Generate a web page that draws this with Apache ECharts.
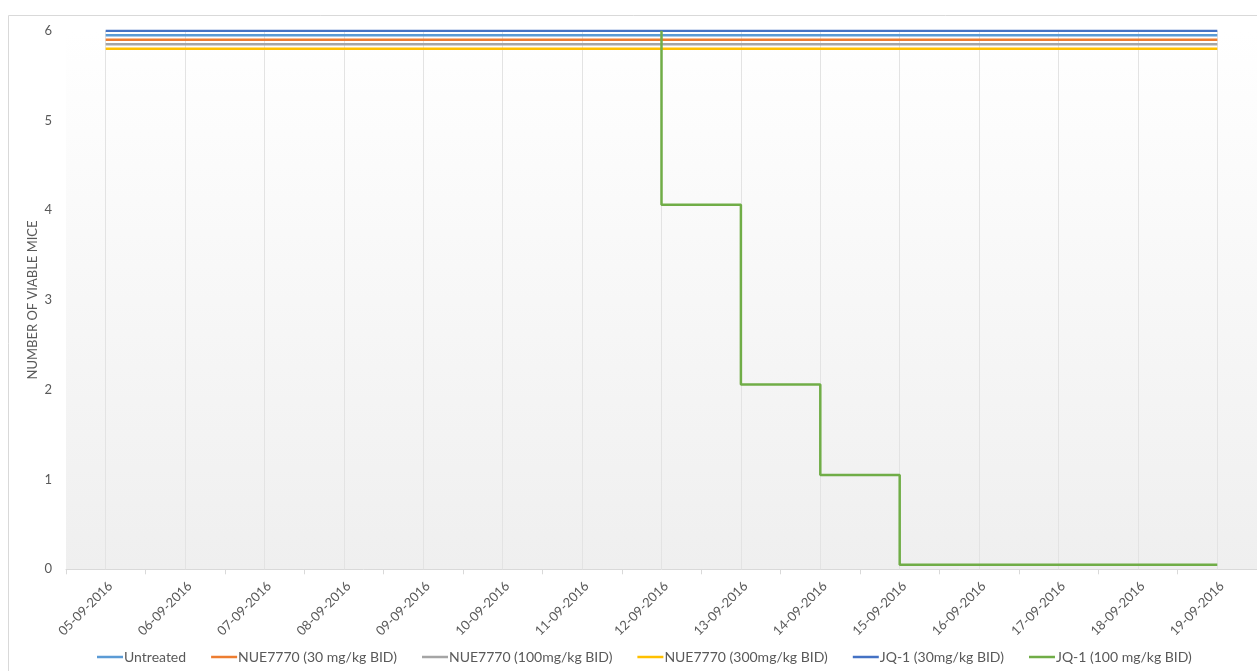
<!DOCTYPE html>
<html>
<head>
<meta charset="utf-8">
<script src="https://cdn.jsdelivr.net/npm/echarts@6/dist/echarts.min.js"></script>
<style>
html,body{margin:0;padding:0;background:#fff;}
#chart{width:1257px;height:671px;}
</style>
</head>
<body>
<div id="chart"></div>
<script>
var dates = ['05-09-2016','06-09-2016','07-09-2016','08-09-2016','09-09-2016','10-09-2016','11-09-2016','12-09-2016','13-09-2016','14-09-2016','15-09-2016','16-09-2016','17-09-2016','18-09-2016','19-09-2016'];
var seriesNames = ['Untreated','NUE7770 (30 mg/kg BID)','NUE7770 (100mg/kg BID)','NUE7770 (300mg/kg BID)','JQ-1 (30mg/kg BID)','JQ-1 (100 mg/kg BID)'];
var seriesColors = ['#5B9BD5','#ED7D31','#A5A5A5','#FFC000','#4472C4','#70AD47'];
var untreated = [5.95,5.95,5.95,5.95,5.95,5.95,5.95,5.95,5.95,5.95,5.95,5.95,5.95,5.95,5.95];
var nue30 = [5.9,5.9,5.9,5.9,5.9,5.9,5.9,5.9,5.9,5.9,5.9,5.9,5.9,5.9,5.9];
var nue100 = [5.85,5.85,5.85,5.85,5.85,5.85,5.85,5.85,5.85,5.85,5.85,5.85,5.85,5.85,5.85];
var nue300 = [5.8,5.8,5.8,5.8,5.8,5.8,5.8,5.8,5.8,5.8,5.8,5.8,5.8,5.8,5.8];
var jq30 = [6,6,6,6,6,6,6,6,6,6,6,6,6,6,6];
var jq100Dates = ['12-09-2016','13-09-2016','14-09-2016','15-09-2016','16-09-2016','17-09-2016','18-09-2016','19-09-2016'];
var jq100 = [6,4.06,2.06,1.05,0.05,0.05,0.05,0.05];
var yTicks = [0,1,2,3,4,5,6];

var FONT = 'Lato';
var TXT = '#595959';

function mk(i, data){
  return {
    name: seriesNames[i],
    type: 'line',
    data: data,
    symbol: 'none',
    showSymbol: false,
    lineStyle: {color: seriesColors[i], width: 2.5},
    itemStyle: {color: seriesColors[i]},
    emphasis: {disabled: true},
    animation: false,
    z: 3
  };
}

var s0 = mk(0, untreated);
s0.markLine = {
  silent: true,
  z: 1,
  symbol: ['none','none'],
  label: {show: false},
  lineStyle: {color: '#e3e3e3', width: 1, type: 'solid'},
  animation: false,
  data: dates.map(function(c){ return {xAxis: c}; })
};
var s5 = mk(5, jq100Dates.map(function(d, k){ return [d, jq100[k]]; }));
s5.step = 'start';

var series = [s0, mk(1, nue30), mk(2, nue100), mk(3, nue300), mk(4, jq30), s5];

var chart = echarts.init(document.getElementById('chart'));
chart.setOption({
  animation: false,
  textStyle: {fontFamily: FONT},
  graphic: [{
    type: 'rect',
    shape: {x: 8.5, y: 15.5, width: 1300, height: 700},
    style: {fill: 'none', stroke: '#d9d9d9', lineWidth: 1},
    z: -10, silent: true
  }],
  grid: {
    left: 66, right: 0, top: 30.7, bottom: 101.7,
    show: true,
    borderWidth: 0,
    backgroundColor: new echarts.graphic.LinearGradient(0,0,0,1,[
      {offset: 0, color: '#ffffff'},
      {offset: 1, color: '#efefef'}
    ])
  },
  legend: {
    data: seriesNames,
    left: 92,
    top: 645,
    icon: 'rect',
    itemWidth: 26,
    itemHeight: 2.5,
    itemGap: 25,
    textStyle: {color: TXT, fontSize: 14, fontFamily: FONT, padding: [0,0,0,-4]},
    selectedMode: false
  },
  xAxis: {
    type: 'category',
    data: dates,
    boundaryGap: true,
    axisLine: {show: true, lineStyle: {color: '#d9d9d9', width: 1}},
    axisTick: {show: true, length: 5, lineStyle: {color: '#d9d9d9'}},
    axisLabel: {rotate: 45, color: TXT, fontSize: 13, fontFamily: FONT, margin: 10, interval: 0, verticalAlign: 'top'},
    splitLine: {show: false}
  },
  yAxis: {
    type: 'value',
    min: 0, max: 6, interval: 1,
    name: 'NUMBER OF VIABLE MICE',
    nameLocation: 'middle',
    nameGap: 27,
    nameMoveOverlap: false,
    nameTextStyle: {color: TXT, fontSize: 13, fontFamily: FONT},
    axisLine: {show: false},
    axisTick: {show: false},
    splitLine: {show: false},
    axisLabel: {
      color: TXT, fontSize: 13, fontFamily: FONT, margin: 14,
      formatter: function(v){ return yTicks.indexOf(v) >= 0 ? String(v) : ''; }
    }
  },
  series: series
});
</script>
</body>
</html>
